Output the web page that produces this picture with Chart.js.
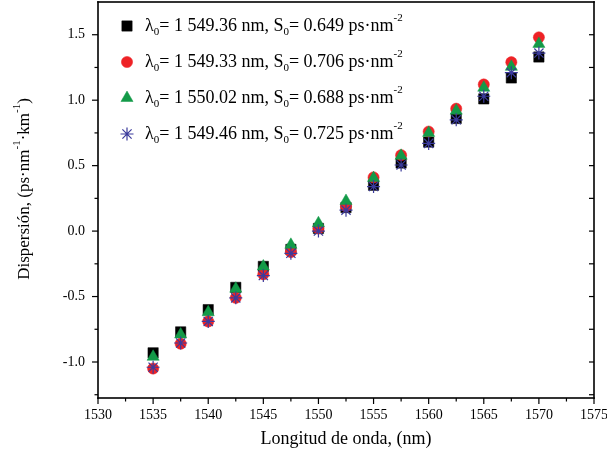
<!DOCTYPE html>
<html>
<head>
<meta charset="utf-8">
<script src="https://cdn.jsdelivr.net/npm/chart.js@4/dist/chart.umd.min.js"></script>
<style>
html, body { margin: 0; padding: 0; background: #fff; }
#wrap { position: relative; width: 607px; height: 456px; }
</style>
</head>
<body>
<div id="wrap"><canvas id="chart" width="607" height="456"></canvas></div>
<script>
// wavelength (nm) and dispersion (ps/nm/km) for each measured fibre
const wavelength = [1535, 1537.5, 1540, 1542.5, 1545, 1547.5, 1550, 1552.5, 1555, 1557.5, 1560, 1562.5, 1565, 1567.5, 1570];
const dispSquare   = [-0.93, -0.77, -0.60, -0.43, -0.27, -0.14, 0.02, 0.18, 0.35, 0.52, 0.68, 0.86, 1.01, 1.17, 1.33];
const dispCircle   = [-1.05, -0.86, -0.69, -0.51, -0.33, -0.16, 0.02, 0.19, 0.41, 0.58, 0.76, 0.935, 1.12, 1.29, 1.48];
const dispTriangle = [-0.96, -0.79, -0.62, -0.44, -0.27, -0.105, 0.06, 0.23, 0.405, 0.575, 0.75, 0.92, 1.095, 1.255, 1.43];
const dispStar     = [-1.04, -0.855, -0.69, -0.51, -0.34, -0.17, 0.0, 0.16, 0.34, 0.505, 0.67, 0.85, 1.03, 1.21, 1.36];

// legend values
const lambda0 = ['1 549.36', '1 549.33', '1 550.02', '1 549.46'];
const slope0  = ['0.649', '0.706', '0.688', '0.725'];

// axis ticks
const xTicks = [1530, 1535, 1540, 1545, 1550, 1555, 1560, 1565, 1570, 1575];
const yTicks = [-1.0, -0.5, 0.0, 0.5, 1.0, 1.5];

const serif = "'Liberation Serif', 'Times New Roman', serif";

function pts(ys) {
  return wavelength.map((x, i) => ({ x: x, y: ys[i] }));
}

function midpoints(t) {
  const out = [];
  for (let i = 0; i < t.length - 1; i++) out.push((t[i] + t[i + 1]) / 2);
  return out;
}

// draw text made of normal / sub / sup runs, returns width
function drawRuns(ctx, x, y, runs, size, measureOnly) {
  let w = 0;
  runs.forEach(r => {
    const small = r[1] !== 0;
    ctx.font = (small ? Math.round(size * 0.62) : size) + 'px ' + serif;
    const dy = r[1] === 1 ? size * 0.36 : (r[1] === -1 ? -size * 0.45 : 0);
    if (!measureOnly) ctx.fillText(r[0], x + w, y + dy);
    w += ctx.measureText(r[0]).width;
  });
  return w;
}

function noPad(s) {
  s.paddingLeft = 0; s.paddingRight = 0; s.paddingTop = 0; s.paddingBottom = 0;
}

const framePlugin = {
  id: 'frame',
  afterDraw(chart) {
    const ctx = chart.ctx;
    const xs = chart.scales.x, ys = chart.scales.y;
    // plot box taken from the scales themselves
    const L = xs.getPixelForValue(xs.min), R = xs.getPixelForValue(xs.max);
    const T = ys.getPixelForValue(ys.max), B = ys.getPixelForValue(ys.min);
    ctx.save();
    ctx.fillStyle = '#000';
    const lw = 1.6;
    ctx.fillRect(L - lw / 2, T - lw / 2, R - L + lw, lw);
    ctx.fillRect(L - lw / 2, B - lw / 2, R - L + lw, lw);
    ctx.fillRect(L - lw / 2, T - lw / 2, lw, B - T + lw);
    ctx.fillRect(R - lw / 2, T - lw / 2, lw, B - T + lw);

    // tick marks: bottom and left outward, right inward
    const tw = 1.2;
    xTicks.forEach(v => { const p = xs.getPixelForValue(v); ctx.fillRect(p - tw / 2, B, tw, 6); });
    midpoints(xTicks).forEach(v => { const p = xs.getPixelForValue(v); ctx.fillRect(p - tw / 2, B, tw, 3.5); });
    const yMinor = [yTicks[0] - 0.25].concat(midpoints(yTicks), [yTicks[yTicks.length - 1] + 0.25]);
    yTicks.forEach(v => {
      const p = ys.getPixelForValue(v);
      ctx.fillRect(L - 6, p - tw / 2, 6, tw);
      ctx.fillRect(R - 5, p - tw / 2, 5, tw);
    });
    yMinor.forEach(v => {
      const p = ys.getPixelForValue(v);
      if (p < T + 1 || p > B - 1) return;
      ctx.fillRect(L - 3.5, p - tw / 2, 3.5, tw);
      ctx.fillRect(R - 5, p - tw / 2, 5, tw);
    });

    // y axis title with superscripts
    ctx.textBaseline = 'middle';
    const yRuns = [['Dispersión, (ps·nm', 0], ['-1', -1], ['·km', 0], ['-1', -1], [')', 0]];
    ctx.translate(25, 189);
    ctx.rotate(-Math.PI / 2);
    const w = drawRuns(ctx, 0, 0, yRuns, 17, true);
    drawRuns(ctx, -w / 2, 0, yRuns, 17, false);
    ctx.restore();

    // legend
    ctx.save();
    ctx.textBaseline = 'middle';
    const rowY = [26, 62, 98, 134];
    chart.data.datasets.forEach((ds, i) => {
      ctx.save();
      ctx.fillStyle = ds.backgroundColor;
      ctx.strokeStyle = ds.borderColor;
      ctx.lineWidth = ds.borderWidth;
      Chart.helpers.drawPoint(ctx, {
        pointStyle: ds.pointStyle, radius: ds.pointRadius, rotation: 0, borderWidth: ds.borderWidth
      }, 127, rowY[i]);
      ctx.restore();
      ctx.fillStyle = '#000';
      const runs = [['λ', 0], ['0', 1], ['= ' + lambda0[i] + ' nm, S', 0], ['0', 1], ['= ' + slope0[i] + ' ps·nm', 0], ['-2', -1]];
      drawRuns(ctx, 145, rowY[i], runs, 18, false);
    });
    ctx.restore();
  }
};

new Chart(document.getElementById('chart'), {
  type: 'scatter',
  data: {
    datasets: [
      { label: 'S1', data: pts(dispSquare), pointStyle: 'rect', pointRadius: 7.3, backgroundColor: '#000000', borderColor: '#000000', borderWidth: 0.5, order: 4 },
      { label: 'S2', data: pts(dispCircle), pointStyle: 'circle', pointRadius: 5.6, backgroundColor: '#ee2226', borderColor: '#ee2226', borderWidth: 0.5, order: 3 },
      { label: 'S3', data: pts(dispTriangle), pointStyle: 'triangle', pointRadius: 7, backgroundColor: '#139a48', borderColor: '#139a48', borderWidth: 0.5, order: 2 },
      { label: 'S4', data: pts(dispStar), pointStyle: 'star', pointRadius: 6.5, backgroundColor: '#3b3b9c', borderColor: '#3b3b9c', borderWidth: 1.2, order: 1 }
    ]
  },
  options: {
    responsive: false,
    animation: false,
    events: [],
    layout: { autoPadding: false, padding: { left: 0, right: 13, top: 2, bottom: 0 } },
    plugins: { legend: { display: false }, tooltip: { enabled: false } },
    scales: {
      x: {
        type: 'linear', min: 1530, max: 1575,
        grid: { display: false, drawTicks: false },
        border: { display: false },
        afterBuildTicks: s => { s.ticks = xTicks.map(v => ({ value: v })); },
        afterFit: s => { s.height = 58; noPad(s); },
        ticks: { color: '#000', font: { family: serif, size: 14 }, padding: 9, maxRotation: 0, autoSkip: false, callback: v => String(v) },
        title: { display: true, text: 'Longitud de onda, (nm)', color: '#000', font: { family: serif, size: 18 }, padding: { top: 0, bottom: 6 } }
      },
      y: {
        min: -1.275, max: 1.75,
        grid: { display: false, drawTicks: false },
        border: { display: false },
        afterBuildTicks: s => { s.ticks = yTicks.map(v => ({ value: v })); },
        afterFit: s => { s.width = 98; noPad(s); },
        ticks: { color: '#000', font: { family: serif, size: 14 }, padding: 13, callback: v => v.toFixed(1) }
      }
    }
  },
  plugins: [framePlugin]
});
</script>
</body>
</html>
